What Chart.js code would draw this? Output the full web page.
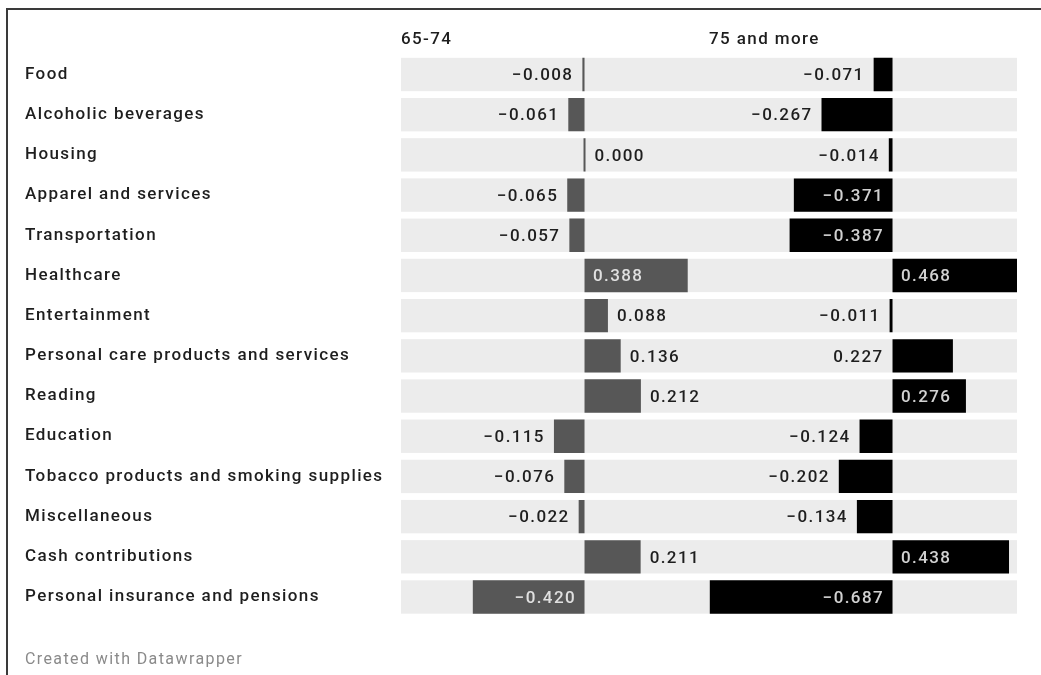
<!DOCTYPE html>
<html>
<head>
<meta charset="utf-8">
<script src="https://cdn.jsdelivr.net/npm/chart.js@4"></script>
<style>
  html, body { margin: 0; padding: 0; background: #fff; }
  #wrap { position: relative; width: 1041px; height: 675px; }
  #frame { position: absolute; left: 6px; top: 8px; right: 0; bottom: 0;
           border-top: 2px solid #3a3a3a; border-left: 2px solid #3a3a3a; pointer-events: none; }
</style>
</head>
<body>
<div id="wrap">
  <canvas id="chart" width="1041" height="675"></canvas>
  <div id="frame"></div>
</div>
<script>
const categories = ['Food', 'Alcoholic beverages', 'Housing', 'Apparel and services', 'Transportation',
  'Healthcare', 'Entertainment', 'Personal care products and services', 'Reading', 'Education',
  'Tobacco products and smoking supplies', 'Miscellaneous', 'Cash contributions', 'Personal insurance and pensions'];
const age65to74 = [-0.008, -0.061, 0.000, -0.065, -0.057, 0.388, 0.088, 0.136, 0.212, -0.115, -0.076, -0.022, 0.211, -0.420];
const age75plus = [-0.071, -0.267, -0.014, -0.371, -0.387, 0.468, -0.011, 0.227, 0.276, -0.124, -0.202, -0.134, 0.438, -0.687];
const panelTitles = ['65-74', '75 and more'];

const FONT = 'Roboto, "Noto Sans", sans-serif';
const SPACING = '1.4px';

function fmt(v) {
  const s = Math.abs(v).toFixed(3);
  return v < 0 ? '\u2212' + s : s;
}

// the reference text is set wide, so widen letters a little
const wideText = {
  id: 'wideText',
  beforeDraw(chart) { chart.ctx.letterSpacing = SPACING; }
};

// grey row bands behind both panels
const bands = {
  id: 'bands',
  beforeDatasetsDraw(chart) {
    const {ctx, chartArea} = chart;
    const meta = chart.getDatasetMeta(0);
    ctx.save();
    ctx.fillStyle = '#ececec';
    meta.data.forEach(el => {
      ctx.fillRect(chartArea.left, el.y - el.height / 2, chartArea.right - chartArea.left, el.height);
    });
    ctx.restore();
  }
};

// value labels: inside when they fit, outside otherwise, other side of zero if no room
const valueLabels = {
  id: 'valueLabels',
  afterDatasetsDraw(chart) {
    const ctx = chart.ctx;
    ctx.save();
    ctx.letterSpacing = SPACING;
    ctx.font = '500 17px ' + FONT;
    ctx.textBaseline = 'middle';
    chart.data.datasets.forEach((ds, di) => {
      const meta = chart.getDatasetMeta(di);
      const scale = chart.scales[meta.xAxisID];
      const zero = scale.getPixelForValue(0);
      meta.data.forEach((el, i) => {
        const v = ds.data[i];
        const txt = fmt(v);
        const tw = ctx.measureText(txt).width;
        const left = Math.min(el.x, el.base), right = Math.max(el.x, el.base);
        const barW = right - left;
        let x, align, color = '#1e1e1e';
        if (v >= 0) {
          if (barW >= tw + 17) { x = zero + 8.5; align = 'left'; color = 'rgba(255,255,255,0.82)'; }
          else if (scale.right - right >= tw + 16.4) { x = right + 9; align = 'left'; }
          else { x = zero - 9; align = 'right'; }
        } else {
          if (barW >= tw + 17) { x = zero - 8.5; align = 'right'; color = 'rgba(255,255,255,0.82)'; }
          else if (left - scale.left >= tw + 16.4) { x = left - 9; align = 'right'; }
          else { x = zero + 9; align = 'left'; }
        }
        ctx.textAlign = align;
        ctx.fillStyle = color;
        ctx.fillText(txt, x, el.y + 1.5);
      });
    });
    ctx.restore();
  }
};

function panelAxis(title, weight) {
  return {
    type: 'linear',
    position: 'top',
    stack: 'panels',
    stackWeight: 1,
    weight: weight,
    min: -0.69,
    max: 0.468,
    grid: { display: false, drawTicks: false },
    border: { display: false },
    ticks: { display: false },
    title: {
      display: true, text: title, align: 'start', color: '#1e1e1e',
      font: { family: FONT, size: 17, weight: 500 }, padding: { top: 4, bottom: 4 }
    }
  };
}

new Chart(document.getElementById('chart'), {
  type: 'bar',
  data: {
    labels: categories,
    datasets: [
      { label: panelTitles[0], data: age65to74, xAxisID: 'x1', backgroundColor: '#575757' },
      { label: panelTitles[1], data: age75plus, xAxisID: 'x2', backgroundColor: '#000000' }
    ]
  },
  options: {
    indexAxis: 'y',
    responsive: false,
    animation: false,
    datasets: {
      bar: { grouped: false, categoryPercentage: 1, barPercentage: 0.83, minBarLength: 2, borderWidth: 0 }
    },
    layout: { padding: { left: 25, right: 24, top: 26, bottom: 0 } },
    scales: {
      x1: panelAxis(panelTitles[0], 1),
      x2: panelAxis(panelTitles[1], 0),
      y: {
        type: 'category',
        grid: { display: false },
        border: { display: false },
        ticks: { crossAlign: 'far', padding: 0, color: '#1e1e1e', font: { family: FONT, size: 17, weight: 500 } },
        afterFit(scale) { scale.width = 376; }
      }
    },
    plugins: {
      legend: { display: false },
      tooltip: { enabled: false },
      title: {
        display: true, text: 'Created with Datawrapper', position: 'bottom', align: 'start',
        color: '#8a8a8a', font: { family: FONT, size: 16, weight: 'normal' },
        padding: { top: 33.3, bottom: 5.4 }
      }
    }
  },
  plugins: [wideText, bands, valueLabels]
});
</script>
</body>
</html>
